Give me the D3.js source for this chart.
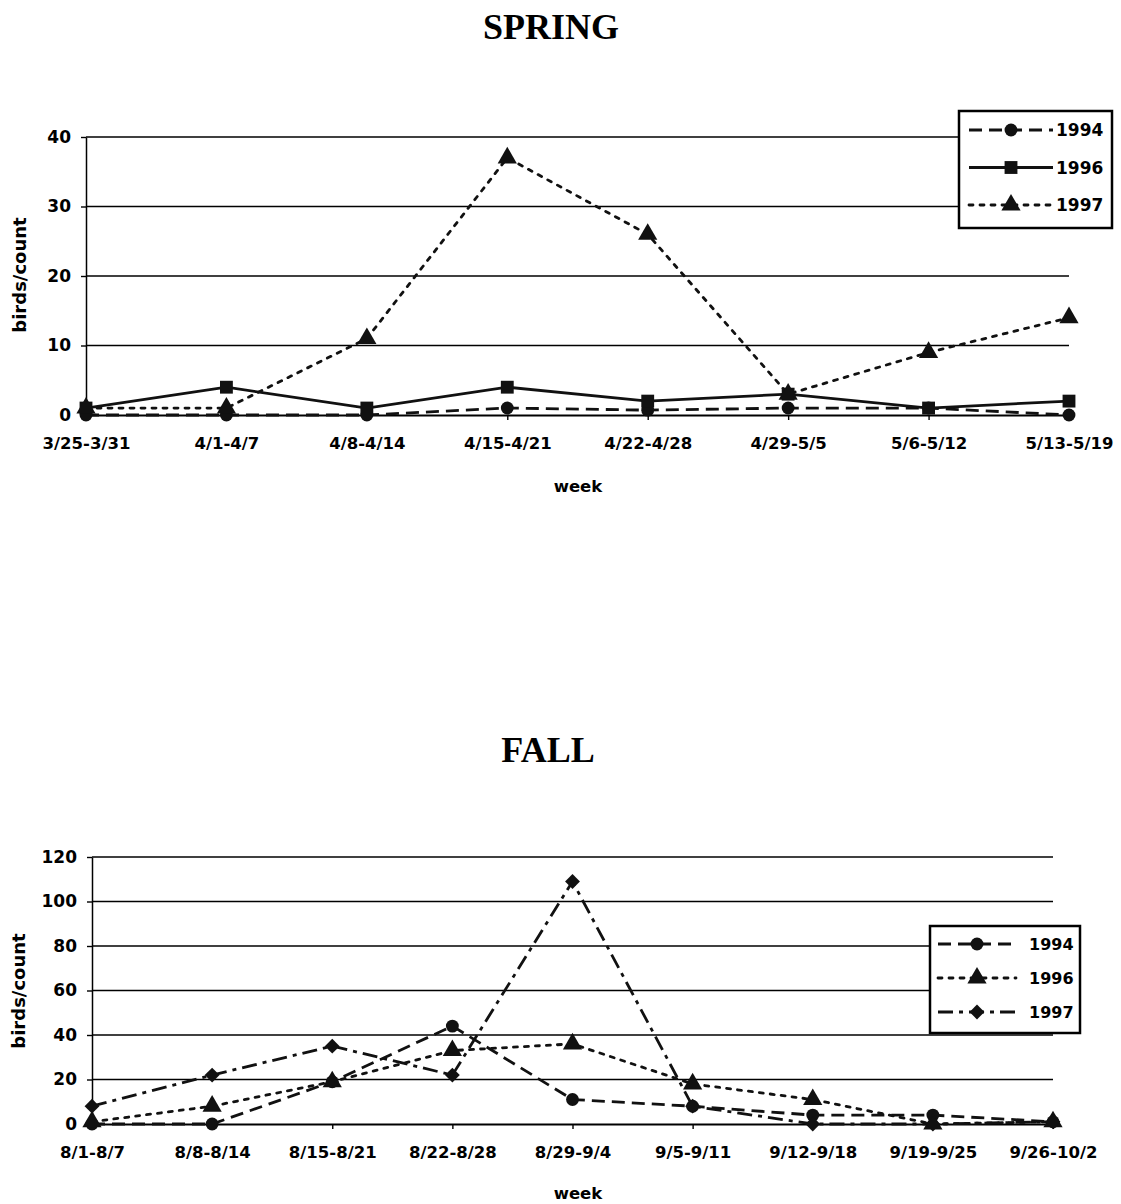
<!DOCTYPE html>
<html>
<head>
<meta charset="utf-8">
<script src="https://cdn.jsdelivr.net/npm/d3@7"></script>
<style>
  body { margin: 0; background: #fff; }
  svg { display: block; }
  .tick text { font-family: "DejaVu Sans", sans-serif; font-weight: bold; fill: #000; }
</style>
</head>
<body>
<svg id="chart" width="1121" height="1204"></svg>
<script>
// ---------- DATA ----------
const springWeeks = ["3/25-3/31", "4/1-4/7", "4/8-4/14", "4/15-4/21", "4/22-4/28", "4/29-5/5", "5/6-5/12", "5/13-5/19"];
const spring1994 = [0, 0, 0, 1, 0.7, 1, 1, 0];
const spring1996 = [1, 4, 1, 4, 2, 3, 1, 2];
const spring1997 = [1, 1, 11, 37, 26, 3, 9, 14];
const springTicks = [0, 10, 20, 30, 40];

const fallWeeks = ["8/1-8/7", "8/8-8/14", "8/15-8/21", "8/22-8/28", "8/29-9/4", "9/5-9/11", "9/12-9/18", "9/19-9/25", "9/26-10/2"];
const fall1994 = [0, 0, 19, 44, 11, 8, 4, 4, 1];
const fall1996 = [1, 8, 19, 33, 36, 18, 11, 0, 1];
const fall1997 = [8, 22, 35, 22, 109, 8, 0, 0, 1];
const fallTicks = [0, 20, 40, 60, 80, 100, 120];

const springTitle = "SPRING";
const fallTitle = "FALL";
const yTitle = "birds/count";
const xTitle = "week";

// ---------- STYLES ----------
const DASH = "13,7";
const DOT = "4,7";
const DASHDOT = "15,6,4,6";
const symbols = {
  circle: { gen: d3.symbol().type(d3.symbolCircle).size(130), rot: 0 },
  square: { gen: d3.symbol().type(d3.symbolSquare).size(165), rot: 0 },
  triangle: { gen: d3.symbol().type(d3.symbolTriangle).size(160), rot: 0 },
  diamond: { gen: d3.symbol().type(d3.symbolSquare).size(110), rot: 45 }
};

const svg = d3.select("#chart");
svg.append("rect").attr("width", 1121).attr("height", 1204).attr("fill", "#fff");

function drawChart(cfg) {
  const g = svg.append("g");
  const x = d3.scalePoint().domain(cfg.weeks).range(cfg.xRange);
  const y = d3.scaleLinear().domain(cfg.yDomain).range(cfg.yRange);
  const [x0, x1] = cfg.xRange;

  // title
  g.append("text").attr("x", cfg.titleX).attr("y", cfg.titleY)
    .attr("text-anchor", "middle")
    .style("font-family", "'Liberation Serif', 'Times New Roman', serif")
    .style("font-weight", "bold").style("font-size", "36px")
    .text(cfg.title);

  // gridlines
  g.append("g").selectAll("line").data(cfg.ticks.filter(t => t > 0)).join("line")
    .attr("x1", x0).attr("x2", x1)
    .attr("y1", d => y(d)).attr("y2", d => y(d))
    .attr("stroke", "#000").attr("stroke-width", 1.4);

  // y axis
  const ya = g.append("g").attr("transform", `translate(${x0},0)`)
    .call(d3.axisLeft(y).tickValues(cfg.ticks).tickSize(5).tickSizeOuter(0).tickPadding(10));
  ya.select(".domain").attr("stroke", "#000").attr("stroke-width", 1.5);
  ya.selectAll(".tick line").attr("stroke", "#000").attr("stroke-width", 1.4);
  ya.selectAll(".tick text").style("font-size", "17px");

  // x axis
  const xa = g.append("g").attr("transform", `translate(0,${cfg.yRange[0]})`)
    .call(d3.axisBottom(x).tickSize(5).tickSizeOuter(0).tickPadding(cfg.xPad));
  xa.select(".domain").attr("stroke", "#000").attr("stroke-width", 1.8);
  xa.selectAll(".tick line").attr("stroke", "#000").attr("stroke-width", 1.4);
  xa.selectAll(".tick text").style("font-size", "16.5px");

  // axis titles
  g.append("text")
    .attr("transform", `translate(${cfg.yTitleX},${cfg.yTitleY}) rotate(-90)`)
    .attr("text-anchor", "middle").attr("dy", "0.35em")
    .style("font-family", "'DejaVu Sans', sans-serif").style("font-weight", "bold")
    .style("font-size", "18px").text(yTitle);
  g.append("text").attr("x", cfg.xTitleX).attr("y", cfg.xTitleY)
    .attr("text-anchor", "middle")
    .style("font-family", "'DejaVu Sans', sans-serif").style("font-weight", "bold")
    .style("font-size", "16.5px").text(xTitle);

  // series
  const line = d3.line().x((d, i) => x(cfg.weeks[i])).y(d => y(d));
  cfg.series.forEach(s => {
    g.append("path").datum(s.values).attr("d", line)
      .attr("fill", "none").attr("stroke", "#111").attr("stroke-width", 2.8)
      .attr("stroke-dasharray", s.dash).attr("stroke-linecap", s.dash === DOT ? "round" : "butt");
  });
  cfg.series.forEach(s => {
    const sym = symbols[s.marker];
    g.append("g").selectAll("path").data(s.values).join("path")
      .attr("transform", (d, i) => `translate(${x(cfg.weeks[i])},${y(d)}) rotate(${sym.rot})`)
      .attr("d", sym.gen).attr("fill", "#111");
  });

  // legend
  const L = cfg.legend;
  const lg = g.append("g");
  lg.append("rect").attr("x", L.x).attr("y", L.y).attr("width", L.w).attr("height", L.h)
    .attr("fill", "#fff").attr("stroke", "#000").attr("stroke-width", 2.5);
  cfg.series.forEach((s, i) => {
    const cy = L.y + L.rowY0 + i * L.rowStep;
    const sym = symbols[s.marker];
    lg.append("line").attr("x1", L.x + L.lineX0).attr("x2", L.x + L.lineX1)
      .attr("y1", cy).attr("y2", cy)
      .attr("stroke", "#111").attr("stroke-width", 2.8).attr("stroke-dasharray", s.dash)
      .attr("stroke-linecap", s.dash === DOT ? "round" : "butt");
    lg.append("path").attr("transform", `translate(${L.x + (L.lineX0 + L.lineX1) / 2},${cy}) rotate(${sym.rot})`)
      .attr("d", sym.gen).attr("fill", "#111");
    lg.append("text").attr("x", L.x + L.textX).attr("y", cy).attr("dy", "0.36em")
      .style("font-family", "'DejaVu Sans', sans-serif").style("font-weight", "bold")
      .style("font-size", L.font).text(s.name);
  });
}

drawChart({
  title: springTitle, titleX: 551, titleY: 39,
  weeks: springWeeks, xRange: [86, 1069],
  yDomain: [0, 40], yRange: [415, 137], ticks: springTicks,
  xPad: 17, yTitleX: 20, yTitleY: 275, xTitleX: 578, xTitleY: 492,
  series: [
    { name: "1994", values: spring1994, dash: DASH, marker: "circle" },
    { name: "1996", values: spring1996, dash: null, marker: "square" },
    { name: "1997", values: spring1997, dash: DOT, marker: "triangle" }
  ],
  legend: { x: 959, y: 111, w: 153, h: 117, rowY0: 19, rowStep: 37.5, lineX0: 10, lineX1: 94, textX: 97, font: "17px" }
});

drawChart({
  title: fallTitle, titleX: 548, titleY: 762,
  weeks: fallWeeks, xRange: [92, 1053],
  yDomain: [0, 120], yRange: [1124, 857], ticks: fallTicks,
  xPad: 17, yTitleX: 19, yTitleY: 991, xTitleX: 578, xTitleY: 1199,
  series: [
    { name: "1994", values: fall1994, dash: DASH, marker: "circle" },
    { name: "1996", values: fall1996, dash: DOT, marker: "triangle" },
    { name: "1997", values: fall1997, dash: DASHDOT, marker: "diamond" }
  ],
  legend: { x: 930, y: 926, w: 150, h: 107, rowY0: 18, rowStep: 34, lineX0: 8, lineX1: 86, textX: 99, font: "16px" }
});
</script>
</body>
</html>
